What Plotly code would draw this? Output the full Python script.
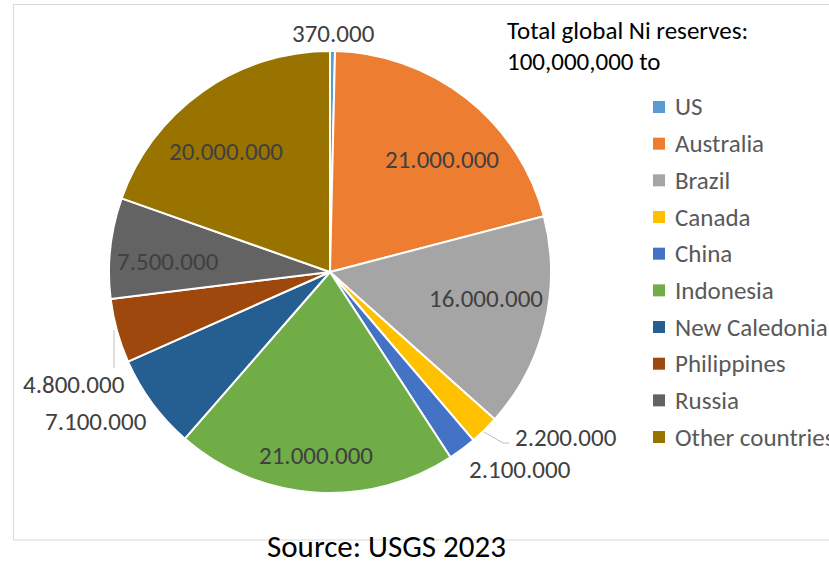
import plotly.graph_objects as go

W, H = 829, 564

# Nickel reserves by country (tonnes)
countries = ["US", "Australia", "Brazil", "Canada", "China", "Indonesia",
             "New Caledonia", "Philippines", "Russia", "Other countries"]
reserves = [370000, 21000000, 16000000, 2200000, 2100000, 21000000,
            7100000, 4800000, 7500000, 20000000]
colors = ["#5B9BD5", "#ED7D31", "#A5A5A5", "#FFC000", "#4472C4", "#70AD47",
          "#255E91", "#9E480E", "#636363", "#997300"]

# label anchor points (pixels from top-left) for each slice's value text
label_xy = [(333, 33), (442, 160), (486, 298), (566, 437), (520, 469),
            (316, 456), (96, 421), (74, 384), (168, 261), (226, 152)]

FONT = "Carlito, Open Sans, sans-serif"


def px(x):
    return x / W


def py(y):
    return 1 - y / H


def fmt(v):
    return f"{v:,}".replace(",", ".")


# pie geometry: centre and radius in pixels
cx, cy, r = 330, 272, 221

fig = go.Figure(go.Pie(
    labels=countries,
    values=reserves,
    marker=dict(colors=colors, line=dict(color="white", width=2)),
    sort=False,
    direction="clockwise",
    rotation=0,
    textinfo="none",
    hoverinfo="label+value",
    showlegend=False,
    domain=dict(x=[px(cx - r), px(cx + r)], y=[py(cy + r), py(cy - r)]),
))

annotations = []
for v, (x, y) in zip(reserves, label_xy):
    annotations.append(dict(
        x=px(x), y=py(y), xref="paper", yref="paper",
        text=fmt(v), showarrow=False, xanchor="center", yanchor="middle",
        font=dict(family=FONT, size=25, color="#404040"),
    ))

# title block
for text, y in [("Total global Ni reserves:", 31), ("100,000,000 to", 61)]:
    annotations.append(dict(
        x=px(505), y=py(y), xref="paper", yref="paper", text=text,
        showarrow=False, xanchor="left", yanchor="middle",
        font=dict(family=FONT, size=25, color="#000000"),
    ))

# legend entries
shapes = []
for i, (name, c) in enumerate(zip(countries, colors)):
    yc = 107 + 36.67 * i
    shapes.append(dict(type="rect", xref="paper", yref="paper",
                       x0=px(653), x1=px(665), y0=py(yc + 6), y1=py(yc - 6),
                       fillcolor=c, line=dict(width=0)))
    annotations.append(dict(
        x=px(673), y=py(yc), xref="paper", yref="paper", text=name,
        showarrow=False, xanchor="left", yanchor="middle",
        font=dict(family=FONT, size=25, color="#595959"),
    ))

# source line
annotations.append(dict(
    x=px(386), y=py(546), xref="paper", yref="paper", text="Source: USGS 2023",
    showarrow=False, xanchor="center", yanchor="middle",
    font=dict(family=FONT, size=31, color="#000000"),
))

# leader lines for the small outside labels
shapes.append(dict(type="path", xref="paper", yref="paper",
                   path=f"M{px(484)},{py(432)} L{px(503)},{py(443)} L{px(509)},{py(443)}",
                   line=dict(color="#BFBFBF", width=1)))
shapes.append(dict(type="line", xref="paper", yref="paper",
                   x0=px(114), x1=px(114), y0=py(330), y1=py(368),
                   line=dict(color="#BFBFBF", width=1)))

# chart frame
shapes.append(dict(type="rect", xref="paper", yref="paper",
                   x0=px(13.5), x1=px(840), y0=py(540), y1=py(4.5),
                   line=dict(color="#D9D9D9", width=1), fillcolor="rgba(0,0,0,0)",
                   layer="below"))

fig.update_layout(
    width=W, height=H,
    margin=dict(l=0, r=0, t=0, b=0),
    paper_bgcolor="white", plot_bgcolor="white",
    annotations=annotations, shapes=shapes,
    showlegend=False,
)

fig.write_html("out.html")
